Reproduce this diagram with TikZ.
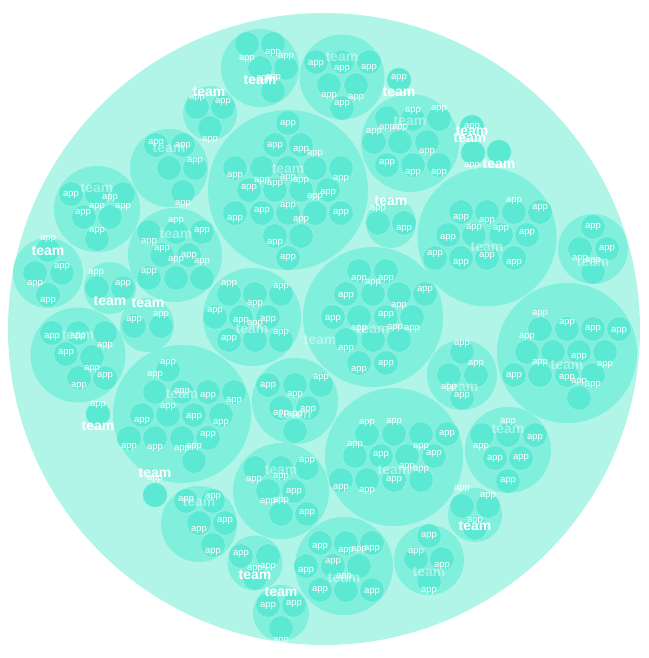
\documentclass[tikz,border=0pt]{standalone}
\usepackage{fontspec}
\setmainfont{Liberation Sans}
\definecolor{outerc}{HTML}{B0F5E8}
\definecolor{teamc}{HTML}{80EFDC}
\definecolor{appc}{HTML}{5CE9D4}
\tikzset{
  teamcircle/.style={fill=teamc},
  appcircle/.style={fill=appc, draw=white, draw opacity=0.25, line width=0.6pt},
  applabel/.style={text=white, inner sep=0pt, font=\fontsize{9.5}{10}\selectfont},
  teamlabel/.style={text=white, inner sep=0pt, font=\fontsize{14}{15}\selectfont\bfseries},
  fadedteam/.style={teamlabel, text opacity=0.45}
}
\begin{document}
\begin{tikzpicture}[x=1pt,y=-1pt]
\fill[white] (0,0) rectangle (648,658);
\useasboundingbox (0,0) rectangle (648,658);
% outer circle
\fill[outerc] (324,329) circle (316pt);
% team circles
\foreach \x/\y/\r in {
 260/68/39, 210/113/27, 169/168/39, 97/209/43, 48/273/35, 110/288/26, 147/325/27,
 175/255/47, 288/190/80, 410/143/49, 342/77/42.5, 399/80/12.3, 472/127/12.3,
 473/153/12.3, 499/152/12.3, 487/237/69.5, 391/223/25, 593/249/35, 567/353/70,
 462/375/35, 394/457/69, 508/450/43, 475/515/27, 429/560/35, 344/566/49,
 295/401/43, 281/491/48, 199/524/38, 255/563/27.5, 281/613/28, 182/414/69,
 155/495/12.3, 78/355/47.5, 98/414/12.3, 252/317/49, 373/317/70}
 {\fill[teamcircle] (\x,\y) circle (\r pt);}
% app circles
\foreach \x/\y in {
 247/44, 273/44, 260/68, 286/68, 273/91,
 197/107, 223/107, 210/128,
 156/145, 183/145, 169/168, 195/168, 183/192,
 71/194, 97/194, 123/194, 84/217, 110/217, 97/239,
 48/250, 35/273, 62/273, 48/295,
 97/288, 123/288,
 134/326, 161/326,
 149/232, 176/232, 202/232, 162/255, 189/255, 149/278, 176/278, 202/278,
 288/123, 275/145, 301/145, 235/168, 262/168, 288/168, 315/168, 341/168,
 249/190, 275/190, 301/190, 328/190, 235/213, 262/213, 288/213, 315/213, 341/213,
 275/236, 301/236, 288/258,
 387/118, 413/119, 439/119, 374/142, 400/142, 427/142, 387/165, 413/165, 439/165,
 316/62, 342/62, 369/62, 329/85, 356/85, 342/108,
 399/80, 472/127, 473/153, 499/152,
 461/212, 487/212, 514/212, 540/212, 448/235, 474/235, 501/235, 527/235,
 435/258, 461/258, 487/258, 514/258,
 378/223, 404/223,
 593/227, 580/249, 607/249, 593/272,
 540/329, 567/329, 593/329, 619/329, 527/352, 553/352, 579/352, 605/352,
 514/375, 540/375, 567/375, 593/375, 579/398,
 462/352, 449/375, 476/375, 462/398,
 367/434, 394/434, 421/434, 447/434, 355/456, 381/456, 407/456, 434/456,
 341/480, 367/480, 394/480, 421/480,
 482/435, 508/435, 535/435, 495/458, 521/458, 508/481,
 462/506, 488/506, 475/528,
 429/536, 416/559, 442/559, 429/581,
 320/543, 346/543, 372/543, 306/566, 333/566, 359/566, 320/590, 346/590, 372/590,
 268/385, 295/385, 321/385, 281/408, 308/408, 295/431,
 255/468, 281/468, 307/468, 268/491, 294/491, 281/514, 307/514,
 186/501, 213/501, 199/523, 225/523, 213/545,
 241/556, 268/556, 255/578,
 268/605, 294/605, 281/628,
 168/370, 155/392, 182/392, 208/392, 234/392, 142/415, 168/415, 194/415, 221/415,
 129/438, 155/438, 182/438, 208/438, 194/461,
 155/495,
 52/333, 78/333, 105/333, 66/354, 92/357, 79/378, 105/378,
 98/414,
 229/294, 255/294, 281/294, 215/317, 241/317, 268/317, 229/340, 255/340, 281/340,
 359/271, 386/271, 346/294, 373/294, 399/294, 425/294, 333/317, 359/317, 386/317,
 412/317, 346/340, 373/340, 399/340, 359/363, 386/363}
 {\path[appcircle] (\x,\y) circle (12.3pt);}
% faded team labels
\foreach \x/\y [count=\i] in {
 169/148, 97/188, 176/234, 288/169, 410/121, 342/57, 487/247, 593/262, 567/365,
 462/387, 394/470, 508/429, 429/572, 344/578, 295/414, 281/470, 199/502, 182/394,
 78/335, 252/329, 373/329, 320/340}
 {\node[fadedteam] (tf\i) at (\x,\y) {team};}
% app labels
\foreach \x/\y [count=\i] in {
 247/59, 273/53, 286/57, 273/78, 264/79,
 197/98, 223/102, 210/140,
 156/143, 183/146, 195/161, 183/204,
 71/195, 110/198, 83/213, 123/207, 97/207, 97/231,
 48/239, 62/267, 35/284, 48/301,
 96/273, 123/284,
 134/320, 161/315,
 176/221, 202/231, 149/242, 162/249, 189/256, 176/260, 202/262, 149/272,
 288/124, 275/146, 301/150, 315/154, 235/176, 262/181, 275/184, 288/178, 301/181,
 341/179, 249/188, 328/193, 315/197, 235/219, 262/211, 288/206, 301/220, 341/213,
 275/243, 288/258,
 413/111, 439/109, 387/128, 400/128, 374/132, 427/152, 387/163, 413/173, 439/173,
 316/64, 342/69, 369/68, 329/96, 356/98, 342/104,
 399/78, 472/127, 472/166,
 514/201, 540/208, 461/218, 487/221, 474/228, 501/229, 448/238, 527/233,
 435/254, 461/263, 487/256, 514/263,
 378/209, 404/229,
 593/227, 607/249, 580/259, 593/261,
 540/314, 567/323, 593/329, 619/331, 527/337, 579/357, 605/365, 540/363,
 514/376, 567/378, 579/382, 593/385,
 462/344, 476/364, 449/388, 462/396,
 367/423, 394/422, 447/434, 355/445, 381/455, 421/447, 434/454, 407/467,
 421/470, 394/480, 341/488, 367/491,
 508/422, 535/438, 481/447, 495/459, 521/458, 508/481,
 462/489, 488/496, 475/521,
 429/536, 416/552, 442/566, 429/591,
 320/547, 346/551, 359/550, 372/549, 306/571, 333/562, 320/590, 372/592, 344/577,
 268/386, 295/395, 321/378, 281/414, 295/415, 308/410,
 307/461, 254/480, 281/477, 294/492, 268/502, 281/501, 307/513,
 186/500, 213/497, 225/521, 199/530, 213/552,
 241/554, 268/567, 255/569,
 268/606, 294/604, 281/641,
 168/363, 155/375, 182/392, 208/396, 234/401, 168/407, 142/421, 194/417, 221/423,
 208/435, 129/447, 155/448, 182/449, 194/447,
 155/479,
 52/337, 78/337, 105/346, 66/353, 92/369, 105/376, 79/386,
 98/405,
 229/284, 281/287, 255/304, 215/311, 241/321, 255/324, 268/320, 229/339, 281/333,
 359/279, 373/283, 386/279, 346/296, 425/290, 399/306, 386/315, 333/319,
 359/329, 395/328, 412/329, 346/349, 359/370, 386/364}
 {\node[applabel] (ap\i) at (\x,\y) {app};}
% white team labels
\foreach \x/\y [count=\i] in {
 260/80, 209/92, 48/251, 110/301, 148/303, 399/92, 472/131, 470/138, 499/164,
 391/201, 475/526, 255/575, 281/592, 155/473, 98/426}
 {\node[teamlabel] (tw\i) at (\x,\y) {team};}
\end{tikzpicture}
\end{document}
